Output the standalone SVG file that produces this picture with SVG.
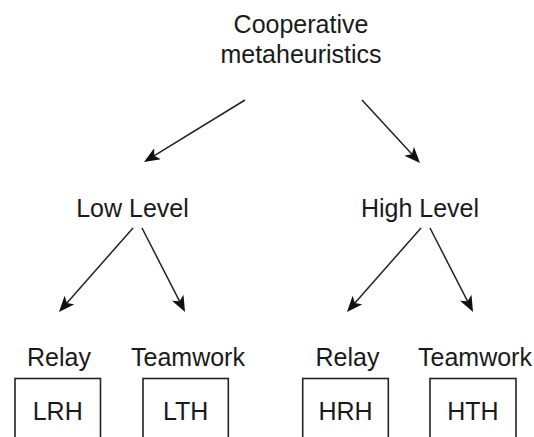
<svg xmlns="http://www.w3.org/2000/svg" width="534" height="437" viewBox="0 0 534 437">
  <style>
    .lbl { font-family: "Liberation Sans", Arial, Helvetica, sans-serif; font-size: 25px; fill: #1a1a1a; text-anchor: middle; }
    .box { fill: #ffffff; stroke: #222222; stroke-width: 1.6; }
    .edge { fill: none; stroke: #222222; stroke-width: 1.5; marker-end: url(#head); }
  </style>
  <defs>
    <marker id="head" viewBox="0 0 16 13" refX="12" refY="6.5" markerWidth="16" markerHeight="13" markerUnits="userSpaceOnUse" orient="auto">
      <path d="M0,0 L16,6.5 L0,13 L4,6.5 z" fill="#111111"/>
    </marker>
  </defs>
  <rect width="534" height="437" fill="#ffffff"/>

  <!-- connectors -->
  <g id="connectors">
    <line class="edge" x1="245" y1="100" x2="147.4" y2="159.9"/>
    <line class="edge" x1="362" y1="100" x2="417.3" y2="160.1"/>
    <line class="edge" x1="133" y1="228" x2="61.6" y2="309"/>
    <line class="edge" x1="142" y1="228" x2="183.2" y2="308.4"/>
    <line class="edge" x1="421" y1="228" x2="349.6" y2="309"/>
    <line class="edge" x1="430" y1="228" x2="471.2" y2="308.4"/>
  </g>

  <g id="root">
    <text class="lbl" x="301" y="33">Cooperative</text>
    <text class="lbl" x="301" y="63">metaheuristics</text>
  </g>

  <g id="low-level">
    <text class="lbl" x="132.5" y="216.5">Low Level</text>
  </g>
  <g id="high-level">
    <text class="lbl" x="420" y="216.5">High Level</text>
  </g>

  <g id="lrh">
    <text class="lbl" x="59" y="366">Relay</text>
    <rect class="box" x="15" y="378.5" width="85.5" height="70"/>
    <text class="lbl" x="57.7" y="420">LRH</text>
  </g>
  <g id="lth">
    <text class="lbl" x="188" y="366">Teamwork</text>
    <rect class="box" x="143" y="378.5" width="85.3" height="70"/>
    <text class="lbl" x="185.7" y="420">LTH</text>
  </g>
  <g id="hrh">
    <text class="lbl" x="347.5" y="366">Relay</text>
    <rect class="box" x="302.7" y="378.5" width="85.6" height="70"/>
    <text class="lbl" x="345.5" y="420">HRH</text>
  </g>
  <g id="hth">
    <text class="lbl" x="475" y="366">Teamwork</text>
    <rect class="box" x="430" y="378.5" width="86" height="70"/>
    <text class="lbl" x="473" y="420">HTH</text>
  </g>
</svg>
